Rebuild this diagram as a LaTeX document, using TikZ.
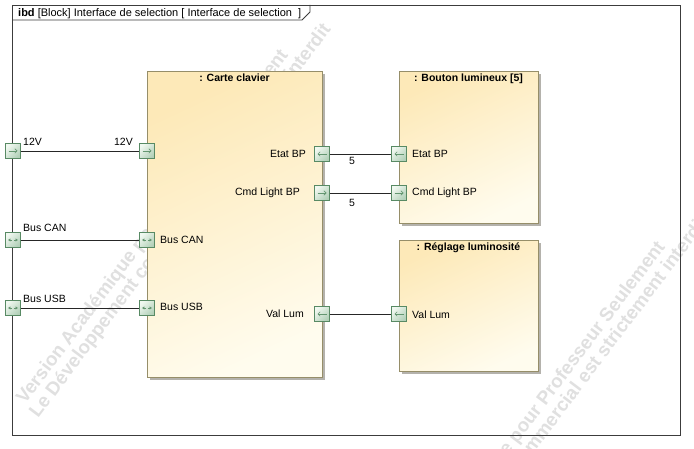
\documentclass[tikz,border=0pt]{standalone}
\usepackage{fontspec}
\setmainfont{Liberation Sans}
\usetikzlibrary{arrows.meta,shadows}
\definecolor{blocktop}{RGB}{253,233,184}
\definecolor{blockbot}{RGB}{255,252,238}
\definecolor{blockborder}{RGB}{150,142,105}
\definecolor{shadowgray}{RGB}{180,178,172}
\definecolor{porttop}{RGB}{240,248,240}
\definecolor{portbot}{RGB}{178,208,184}
\definecolor{portborder}{RGB}{88,138,100}
\definecolor{portarrowc}{RGB}{100,150,112}
\definecolor{framec}{RGB}{60,60,60}
\definecolor{wmc}{RGB}{224,224,224}
\tikzset{
  lbl/.style={font=\fontsize{10.5}{12}\selectfont, inner sep=0pt, text=black},
  ttl/.style={font=\bfseries\fontsize{10.5}{12}\selectfont, inner sep=0pt, text=black},
  wm/.style={font=\bfseries\fontsize{18.9}{20}\selectfont, inner sep=0pt, text=wmc, anchor=base west, rotate=53},
  blockbox/.style={draw=blockborder, line width=0.8pt, anchor=north west, inner sep=0pt,
    top color=blocktop, bottom color=blockbot, shading angle=25,
    general shadow={shadow xshift=2.5pt, shadow yshift=-2.5pt, fill=shadowgray}},
  portbox/.style={draw=portborder, line width=0.8pt, minimum size=15pt, inner sep=0pt,
    top color=porttop, bottom color=portbot, shading angle=45},
  parrow/.style={draw=portarrowc, line width=0.7pt, -{Straight Barb[length=2.2pt,width=4.4pt]}},
  pbus/.style={draw=portarrowc, line width=0.6pt, -{Latex[length=2.4pt,width=3.4pt]}},
  conn/.style={draw=black!85, line width=0.8pt},
  frameline/.style={draw=framec, line width=0.9pt},
}
\begin{document}
\begin{tikzpicture}[x=1pt,y=-1pt]
\useasboundingbox (0,0) rectangle (694,449);
\fill[white] (0,0) rectangle (694,449);
% watermark
\begin{scope}
\clip (0,0) rectangle (694,449);
\node[wm] (wm1a) at (25,405) {Version Académique pour Professeur Seulement};
\node[wm] (wm1b) at (38,419) {Le Développement commercial est strictement interdit};
\node[wm] (wm2a) at (402,597) {Version Académique pour Professeur Seulement};
\node[wm] (wm2b) at (415,611) {Le Développement commercial est strictement interdit};
\end{scope}
% frame
\draw[frameline] (12,5) rectangle (680,435);
\draw[frameline] (12,20) -- (302,20) -- (310,12) -- (310,5);
\node[lbl, font=\fontsize{11}{12}\selectfont, anchor=base west] (title) at (18,17) {\textbf{ibd} [Block] Interface de selection [ Interface de selection \ ]};
% blocks
\node[blockbox, minimum width=175pt, minimum height=306pt] (carte) at (147,71) {};
\node[blockbox, minimum width=139pt, minimum height=152pt] (bouton) at (399,71) {};
\node[blockbox, minimum width=139pt, minimum height=131pt] (reglage) at (399,240) {};
\node[ttl, anchor=base] (cartet) at (234.5,82) {: Carte clavier};
\node[ttl, anchor=base] (boutont) at (468.5,82) {: Bouton lumineux [5]};
\node[ttl, anchor=base] (reglaget) at (468.5,251) {: Réglage luminosité};
% ports
\node[portbox] (p12o) at (13,151) {};
\node[portbox] (pcano) at (13,240) {};
\node[portbox] (pusbo) at (13,308) {};
\node[portbox] (p12i) at (147,151) {};
\node[portbox] (pcani) at (147,240) {};
\node[portbox] (pusbi) at (147,308) {};
\node[portbox] (etatc) at (322,154) {};
\node[portbox] (cmdc) at (322,193) {};
\node[portbox] (valc) at (322,314) {};
\node[portbox] (etatb) at (399,154) {};
\node[portbox] (cmdb) at (399,193) {};
\node[portbox] (valr) at (399,314) {};
% connectors
\draw[conn] (p12o) -- (p12i);
\draw[conn] (pcano) -- (pcani);
\draw[conn] (pusbo) -- (pusbi);
\draw[conn] (etatc) -- (etatb);
\draw[conn] (cmdc) -- (cmdb);
\draw[conn] (valc) -- (valr);
% port arrows
\foreach \p in {p12o,p12i,cmdc,cmdb}{
  \draw[parrow] ([xshift=-4.5pt]\p.center) -- ([xshift=4.5pt]\p.center);
}
\foreach \p in {etatc,etatb,valc,valr}{
  \draw[parrow] ([xshift=4.5pt]\p.center) -- ([xshift=-4.5pt]\p.center);
}
\foreach \p in {pcano,pusbo,pcani,pusbi}{
  \draw[pbus] ([xshift=-0.8pt]\p.center) -- ([xshift=-5pt]\p.center);
  \draw[pbus] ([xshift=0.8pt]\p.center) -- ([xshift=5pt]\p.center);
}
% labels
\node[lbl, anchor=base west] (l12o) at (23,146) {12V};
\node[lbl, anchor=base east] (l12i) at (133,146) {12V};
\node[lbl, anchor=base west] (lcano) at (23,232) {Bus CAN};
\node[lbl, anchor=base west] (lusbo) at (23,302) {Bus USB};
\node[lbl, anchor=west] (lcani) at (160,240) {Bus CAN};
\node[lbl, anchor=west] (lusbi) at (160,307) {Bus USB};
\node[lbl, anchor=east] (letatc) at (306,154) {Etat BP};
\node[lbl, anchor=east] (lcmdc) at (300,193) {Cmd Light BP};
\node[lbl, anchor=east] (lvalc) at (304,314) {Val Lum};
\node[lbl, anchor=west] (letatb) at (412,154) {Etat BP};
\node[lbl, anchor=west] (lcmdb) at (412,193) {Cmd Light BP};
\node[lbl, anchor=west] (lvalr) at (412,315) {Val Lum};
\node[lbl] (n5a) at (352,160.5) {5};
\node[lbl] (n5b) at (352,202.5) {5};
\end{tikzpicture}
\end{document}
